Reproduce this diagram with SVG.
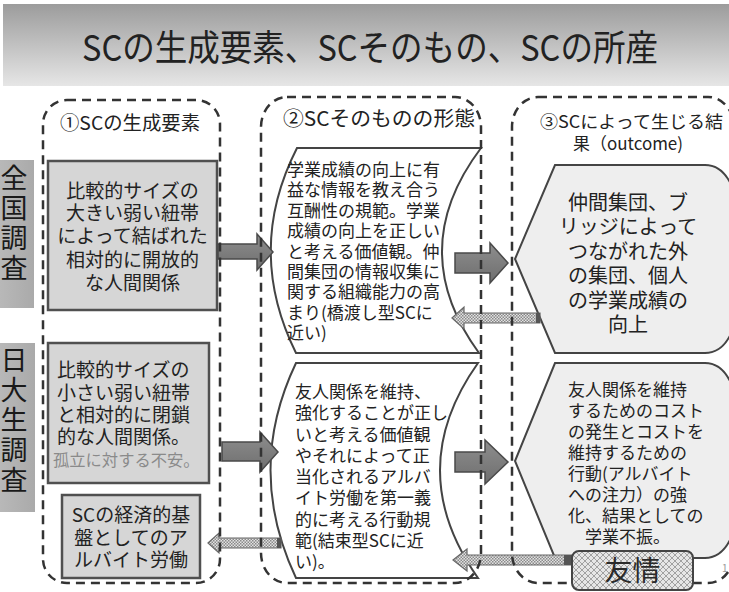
<svg xmlns="http://www.w3.org/2000/svg" width="729" height="592" viewBox="0 0 729 592">
<style>
text{font-family:"Noto Sans CJK JP","Noto Sans",sans-serif;fill:#222;}
.dash{fill:none;stroke:#333;stroke-width:2.5;stroke-dasharray:9 6;}
.box{fill:#d6d6d6;stroke:#505050;stroke-width:2.5;}
.scroll{fill:#fff;stroke:#444;stroke-width:2;}
.disp{fill:#eeeeee;stroke:#444;stroke-width:2;}
.side{fill:url(#sideGrad);}
.blk{fill:url(#arrGrad);stroke:#4a4a4a;stroke-width:1.5;}
.pat{fill:url(#dots);stroke:#666;stroke-width:1.2;}
.b19{font-size:19px;}
.b17{font-size:17px;}
.hd{font-size:19px;}
.vert{font-size:27px;writing-mode:vertical-rl;letter-spacing:3px;fill:#1a1a1a;}
</style>
<defs>
<linearGradient id="banner" x1="0" y1="0" x2="0" y2="1">
<stop offset="0" stop-color="#9c9c9c"/>
<stop offset="1" stop-color="#e6e6e6"/>
</linearGradient>
<linearGradient id="sideGrad" x1="0" y1="0" x2="1" y2="0">
<stop offset="0" stop-color="#b9b9b9"/>
<stop offset="1" stop-color="#aaaaaa"/>
</linearGradient>
<linearGradient id="arrGrad" x1="0" y1="0" x2="0" y2="1">
<stop offset="0" stop-color="#8e8e8e"/>
<stop offset="1" stop-color="#6e6e6e"/>
</linearGradient>
<pattern id="dots" width="3" height="3" patternUnits="userSpaceOnUse">
<rect width="3" height="3" fill="#e2e2e2"/>
<rect width="1.5" height="1.5" fill="#8a8a8a"/>
<rect x="1.5" y="1.5" width="1.5" height="1.5" fill="#8a8a8a"/>
</pattern>
<pattern id="hatch" width="6" height="6" patternUnits="userSpaceOnUse">
<rect width="6" height="6" fill="#e6e6e6"/>
<path d="M0 0L6 6M6 0L0 6" stroke="#9a9a9a" stroke-width="0.9"/>
</pattern>
</defs>

<rect width="729" height="592" fill="#fff"/>

<g id="title">
<rect x="3" y="4" width="726" height="82" fill="url(#banner)"/>
<text x="82" y="61" font-size="36" textLength="576" lengthAdjust="spacingAndGlyphs" fill="#1a1a1a">SCの生成要素、SCそのもの、SCの所産</text>
</g>

<g id="label-zenkoku">
<rect class="side" x="-2" y="160" width="36" height="148"/>
<text class="vert" x="14" y="164">全国調査</text>
</g>

<g id="label-nichidai">
<rect class="side" x="-2" y="343" width="37" height="169"/>
<text class="vert" x="14" y="346">日大生調査</text>
</g>

<g id="col1-boxA">
<rect class="box" x="48" y="161" width="169" height="149"/>
<text class="b19" text-anchor="middle"><tspan x="132.5" y="198">比較的サイズの</tspan><tspan x="132.5" y="220">大きい弱い紐帯</tspan><tspan x="132.5" y="243">によって結ばれた</tspan><tspan x="132.5" y="267">相対的に開放的</tspan><tspan x="132.5" y="290">な人間関係</tspan></text>
</g>

<g id="col1-boxB">
<rect class="box" x="48" y="343" width="161" height="140"/>
<text class="b19"><tspan x="57" y="377">比較的サイズの</tspan><tspan x="57" y="400">小さい弱い紐帯</tspan><tspan x="57" y="422">と相対的に閉鎖</tspan><tspan x="57" y="444">的な人間関係。</tspan></text>
<text x="53" y="466" font-size="16.3" style="fill:#8a8a8a">孤立に対する不安。</text>
</g>

<g id="col1-boxC">
<rect class="box" x="62" y="495" width="138" height="83"/>
<text class="b19" text-anchor="middle"><tspan x="131" y="522">SCの経済的基</tspan><tspan x="131" y="545">盤としてのア</tspan><tspan x="131" y="567">ルバイト労働</tspan></text>
</g>

<g id="col2-scroll1">
<path class="scroll" d="M297 148 L481 148 Q404 250 479 353 L296 353 Q245 250 297 148 Z"/>
<text class="b17"><tspan x="287" y="176">学業成績の向上に有</tspan><tspan x="287" y="196.4">益な情報を教え合う</tspan><tspan x="287" y="216.8">互酬性の規範。学業</tspan><tspan x="287" y="237.2">成績の向上を正しい</tspan><tspan x="287" y="257.6">と考える価値観。仲</tspan><tspan x="287" y="278">間集団の情報収集に</tspan><tspan x="287" y="298.4">関する組織能力の高</tspan><tspan x="287" y="318.8">まり(橋渡し型SCに</tspan><tspan x="287" y="339.2">近い)</tspan></text>
</g>

<g id="col2-scroll2">
<path class="scroll" d="M296 363 L478 363 Q402 470 478 578 L296 578 Q245 470 296 363 Z"/>
<text class="b17"><tspan x="295" y="398">友人関係を維持、</tspan><tspan x="295" y="419.3">強化することが正し</tspan><tspan x="295" y="440.5">いと考える価値観</tspan><tspan x="295" y="461.8">やそれによって正</tspan><tspan x="295" y="483">当化されるアルバ</tspan><tspan x="295" y="504.3">イト労働を第一義</tspan><tspan x="295" y="525.5">的に考える行動規</tspan><tspan x="295" y="546.8">範(結束型SCに近</tspan><tspan x="295" y="568">い)。</tspan></text>
</g>

<g id="col3-result1">
<path class="disp" d="M555 165 L705 165 Q742 165 742 259 Q742 353 705 353 L555 353 L515 259 Z"/>
<text font-size="20" text-anchor="middle"><tspan x="628" y="210">仲間集団、ブ</tspan><tspan x="628" y="234.4">リッジによって</tspan><tspan x="628" y="258.8">つながれた外</tspan><tspan x="628" y="283.2">の集団、個人</tspan><tspan x="628" y="307.6">の学業成績の</tspan><tspan x="628" y="332">向上</tspan></text>
</g>

<g id="col3-result2">
<path class="disp" d="M555 363 L705 363 Q742 363 742 461 Q742 558 705 558 L555 558 L515 461 Z"/>
<text class="b17"><tspan x="568" y="396">友人関係を維持</tspan><tspan x="568" y="417">するためのコスト</tspan><tspan x="568" y="438">の発生とコストを</tspan><tspan x="568" y="459">維持するための</tspan><tspan x="568" y="480">行動(アルバイト</tspan><tspan x="568" y="501">への注力）の強</tspan><tspan x="568" y="522">化、結果としての</tspan><tspan x="585" y="543">学業不振。</tspan></text>
</g>

<g id="connectors">
<polygon class="blk" points="218,244 257,244 257,234 273,252 257,270 257,259 218,259"/>
<polygon class="blk" points="455,253 490,253 490,243 508,263 490,283 490,273 455,273"/>
<polygon class="blk" points="222,442 260,442 260,432 278,452 260,472 260,461 222,461"/>
<polygon class="blk" points="455,452 485,452 485,440 508,462 485,484 485,472 455,472"/>
<polygon class="pat" points="452,318 464,307 464,313 540,313 540,323 464,323 464,329"/>
<rect x="536" y="313" width="4" height="10" fill="#555"/>
<polygon class="pat" points="208,543 219,533 219,538 281,538 281,548 219,548 219,553"/>
<rect x="277" y="538" width="4" height="10" fill="#555"/>
<polygon class="pat" points="453,560 467,549 467,555 572,555 572,565 467,565 467,571"/>
<rect x="564" y="555" width="8" height="10" fill="#555"/>
</g>

<g id="col1">
<rect class="dash" x="43" y="100" width="177" height="483" rx="24" ry="24"/>
<text class="hd" x="60" y="130" textLength="140" lengthAdjust="spacingAndGlyphs">①SCの生成要素</text>
</g>
<g id="col2">
<rect class="dash" x="261" y="97" width="220" height="486" rx="26" ry="30"/>
<text x="283" y="126" font-size="20" textLength="192" lengthAdjust="spacingAndGlyphs">②SCそのものの形態</text>
</g>
<g id="col3">
<rect class="dash" x="512" y="97" width="222" height="486" rx="26" ry="30"/>
<text x="540" y="128" font-size="17" textLength="183" lengthAdjust="spacingAndGlyphs">③SCによって生じる結</text>
<text x="573" y="150" font-size="17" textLength="110" lengthAdjust="spacingAndGlyphs">果（outcome)</text>
</g>

<g id="yujo">
<rect x="572" y="551" width="121" height="39" rx="7" ry="7" fill="url(#hatch)" stroke="#444" stroke-width="2"/>
<text x="632.5" y="581" font-size="28" text-anchor="middle" style="fill:#2a2a2a">友情</text>
</g>

<text x="722" y="572" font-size="10" style="fill:#999">1</text>
</svg>
